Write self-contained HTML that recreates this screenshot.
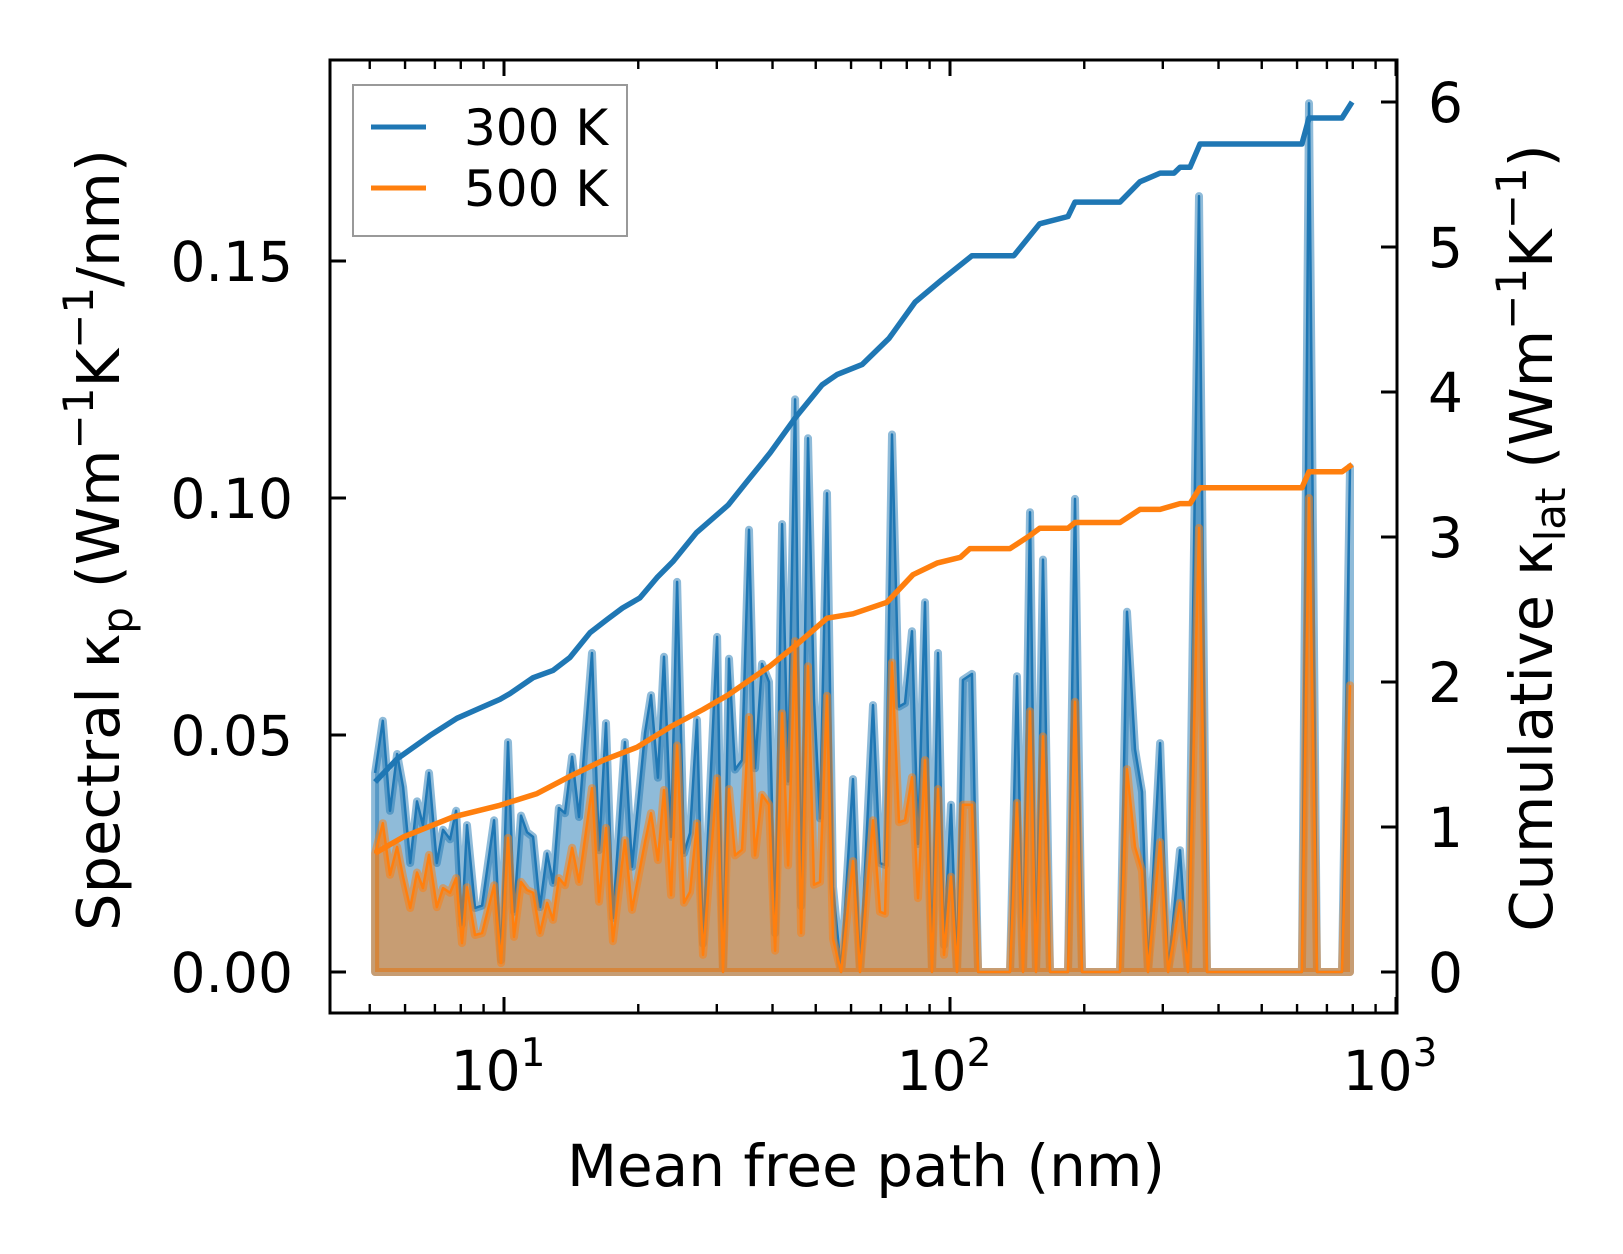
<!DOCTYPE html>
<html><head><meta charset="utf-8"><style>
html,body{margin:0;padding:0;background:#fff;}
svg{display:block;font-family:"DejaVu Sans","Liberation Sans",sans-serif;}
</style></head><body>
<svg id="chart" width="1623" height="1254" viewBox="0 0 1623 1254" xmlns="http://www.w3.org/2000/svg">
<rect width="1623" height="1254" fill="#fff"/>
<g id="plot"></g>
<g id="axes"></g>
</svg>
<script>
const mfp = [5.14,5.35,5.55,5.76,5.94,6.16,6.38,6.58,6.79,7.07,7.30,7.57,7.81,8.05,8.26,8.61,8.93,9.50,9.85,10.21,10.53,10.92,11.26,11.62,12.04,12.49,12.88,13.28,13.70,14.21,14.73,15.75,16.33,16.93,17.55,18.67,19.36,20.71,21.36,22.14,22.84,23.69,24.44,25.33,26.12,27.08,27.94,30.04,30.97,31.95,32.96,34.17,35.43,36.54,37.89,39.29,40.53,42.02,43.35,44.95,46.36,48.05,49.56,51.12,53.00,54.67,56.98,60.61,62.84,67.21,69.66,71.48,74.13,76.86,79.28,82.20,84.79,87.89,91.13,93.99,96.94,100.5,103.7,106.9,112.0,115.6,136.3,141.3,145.8,151.1,155.9,161.6,167.6,183.9,190.7,197.7,240.5,249.4,259.9,269.5,278.0,295.8,308.3,327.9,341.7,361.7,376.9,615.3,638.0,665.0,756.8,788.8];
const spec300 = [.042,.053,.034,.046,.039,.023,.036,.031,.042,.023,.030,.028,.034,.010,.031,.0135,.014,.032,.0025,.0485,.0127,.033,.0295,.0285,.0137,.025,.0188,.0346,.0335,.0454,.0327,.0673,.0257,.0525,.0114,.0485,.0222,.0504,.0584,.041,.0665,.0285,.0823,.0251,.0293,.0532,.006,.0707,0,.0661,.0427,.0447,.0933,.043,.065,.0612,.0082,.0945,.0402,.1208,.0139,.1126,.0575,.0324,.101,.018,0,.0407,0,.0563,.023,.0226,.1134,.056,.0567,.0719,.027,.078,0,.0673,.0057,.0353,0,.0616,.0629,0,0,.0624,0,.097,0,.087,0,0,.0998,0,0,.076,.047,.038,0,.0483,0,.0257,0,.1637,0,0,.1833,0,0,.1065];
const spec500 = [.025,.0314,.0205,.0264,.020,.0135,.021,.0177,.0247,.0137,.0177,.0167,.0198,.0061,.0179,.0078,.0082,.0183,.0019,.0283,.0074,.019,.0173,.0167,.0082,.0146,.011,.0198,.0183,.0262,.019,.0388,.0148,.0304,.0065,.0278,.0131,.0274,.0335,.0236,.0384,.0162,.0478,.0146,.0169,.0314,.0036,.0409,0,.0386,.0246,.0258,.0538,.0246,.0374,.0353,.0045,.0546,.0225,.0698,.0082,.0645,.0184,.019,.0583,.007,0,.0234,0,.032,.0127,.0123,.0653,.0316,.032,.0411,.0156,.0447,0,.0386,.0036,.0201,0,.0353,.0353,0,0,.0357,0,.055,0,.0497,0,0,.057,0,0,.0428,.0264,.0213,0,.0274,0,.0146,0,.0937,0,0,.100,0,0,.0605];
const cumX300 = [5.14,5.76,6.82,7.84,8.83,9.79,10.31,11.62,12.88,14.06,15.59,17.02,18.44,20.17,22.03,23.92,27.0,31.8,35.0,39.5,45.2,51.7,55.8,63.6,73.0,83.5,95.5,112.0,139.0,158.8,183.9,190.7,240.5,266.5,295.8,318.0,327.9,345.3,363.5,615.3,638.0,756.8,797];
const cum300 = [1.31,1.47,1.63,1.75,1.82,1.88,1.92,2.03,2.08,2.17,2.34,2.43,2.51,2.58,2.72,2.83,3.03,3.22,3.38,3.58,3.83,4.05,4.12,4.19,4.37,4.62,4.77,4.94,4.94,5.16,5.21,5.31,5.31,5.45,5.51,5.51,5.55,5.55,5.71,5.71,5.89,5.89,6.0];
const cumX500 = [5.14,5.94,7.69,9.79,11.86,14.06,16.68,19.86,23.57,27.94,31.8,39.5,45.4,53.0,60.6,72.2,82.6,93.5,105.5,110.8,136.3,151.1,158.8,183.9,190.7,240.5,266.5,295.8,327.9,345.3,363.5,615.3,638.0,756.8,797];
const cum500 = [.82,.93,1.07,1.15,1.23,1.35,1.46,1.55,1.69,1.81,1.91,2.11,2.26,2.44,2.47,2.55,2.74,2.82,2.86,2.92,2.92,3.01,3.06,3.06,3.10,3.10,3.19,3.19,3.23,3.23,3.34,3.34,3.45,3.45,3.50];
const leftTicks = [0,0.05,0.10,0.15];
const leftTickLabels = ["0.00","0.05","0.10","0.15"];
const rightTicks = [0,1,2,3,4,5,6];
const xDecades = [1,2,3];

const L=330,R=1397,T=60,B=1013;
const xs = v => 504 + 446*(Math.log10(v)-1);
const yl = v => 972 - v*4740;
const yr = v => 972 - v*145;
const NS="http://www.w3.org/2000/svg";
const plot=document.getElementById('plot'), axes=document.getElementById('axes');
function mk(tag,attrs,parent){const e=document.createElementNS(NS,tag);for(const k in attrs)e.setAttribute(k,attrs[k]);parent.appendChild(e);return e;}
function pts(xa,ya,fy){return xa.map((x,i)=>xs(x).toFixed(1)+','+fy(ya[i]).toFixed(1)).join(' ');}

function spectral(vals,color,name){
  const line=pts(mfp,vals,yl);
  const area=xs(mfp[0]).toFixed(1)+','+yl(0)+' '+line+' '+xs(mfp[mfp.length-1]).toFixed(1)+','+yl(0);
  const f=mk('polygon',{points:area,fill:color,'fill-opacity':0.5,stroke:color,'stroke-opacity':0.5,'stroke-width':8,'stroke-linejoin':'round'},plot);
  
  
  const l=mk('polyline',{points:line,fill:'none',stroke:color,'stroke-width':2.5,'stroke-linejoin':'round'},plot);
  
  
}
spectral(spec300,'#1f77b4','spectral-300k');
spectral(spec500,'#ff7f0e','spectral-500k');
const c3=mk('polyline',{points:pts(cumX300,cum300,yr),fill:'none',stroke:'#1f77b4','stroke-width':5.5,'stroke-linejoin':'round'},plot);


const c5=mk('polyline',{points:pts(cumX500,cum500,yr),fill:'none',stroke:'#ff7f0e','stroke-width':5.5,'stroke-linejoin':'round'},plot);



const fr=mk('rect',{x:L,y:T,width:R-L,height:B-T,fill:'none',stroke:'#000','stroke-width':3},axes);


leftTicks.forEach((v,i)=>{
  const y=yl(v);
  const t=mk('line',{x1:L,x2:L+16,y1:y,y2:y,stroke:'#000','stroke-width':3},axes);
  
  
  const tx=mk('text',{x:L-37,y:y+20,'font-size':55,'text-anchor':'end'},axes);
  tx.textContent=leftTickLabels[i];
  
  
});
rightTicks.forEach(v=>{
  const y=yr(v);
  const t=mk('line',{x1:R-16,x2:R,y1:y,y2:y,stroke:'#000','stroke-width':3},axes);
  
  
  const tx=mk('text',{x:R+31,y:y+20,'font-size':55},axes);
  tx.textContent=String(v);
  
  
});
for(let d=0;d<=3;d++){
  for(let m=1;m<=9;m++){
    const v=m*Math.pow(10,d);
    const x=xs(v);
    if(x<L+1||x>R+1)continue;
    const len=m===1?16:9;
    const a=mk('line',{x1:x,x2:x,y1:B,y2:B-len,stroke:'#000','stroke-width':m===1?3:2.4},axes);
    
    
    const b=mk('line',{x1:x,x2:x,y1:T,y2:T+len,stroke:'#000','stroke-width':m===1?3:2.4},axes);
    
    
  }
}
xDecades.forEach(p=>{
  const x=xs(Math.pow(10,p));
  const tx=mk('text',{x:x-6,y:1090,'font-size':55,'text-anchor':'middle'},axes);
  tx.innerHTML='10<tspan dy="-24" font-size="39">'+p+'</tspan>';
  
  
});
</script>
<svg style="position:absolute;left:0;top:0" width="1623" height="1254">
<text x="866" y="1186" font-size="58" text-anchor="middle" font-family="DejaVu Sans, Liberation Sans, sans-serif">Mean free path (nm)</text>
<text transform="translate(119,540) rotate(-90)" font-size="59" text-anchor="middle" font-family="DejaVu Sans, Liberation Sans, sans-serif">Spectral κ<tspan dy="13" font-size="42">p</tspan><tspan dy="-13"> (Wm</tspan><tspan dy="-26" font-size="42">−1</tspan><tspan dy="26">K</tspan><tspan dy="-26" font-size="42">−1</tspan><tspan dy="26">/nm)</tspan></text>
<text transform="translate(1552,538) rotate(-90)" font-size="59" text-anchor="middle" font-family="DejaVu Sans, Liberation Sans, sans-serif">Cumulative κ<tspan dy="13" font-size="42">lat</tspan><tspan dy="-13"> (Wm</tspan><tspan dy="-26" font-size="42">−1</tspan><tspan dy="26">K</tspan><tspan dy="-26" font-size="42">−1</tspan><tspan dy="26">)</tspan></text>
<g>
<rect x="353" y="85" width="274" height="151" fill="#fff" fill-opacity="0.8" stroke="#999" stroke-width="2"/>
<line x1="371" x2="426" y1="127" y2="127" stroke="#1f77b4" stroke-width="5"/>
<text x="464" y="145" font-size="50" font-family="DejaVu Sans, Liberation Sans, sans-serif">300 K</text>
<line x1="371" x2="426" y1="188" y2="188" stroke="#ff7f0e" stroke-width="5"/>
<text x="464" y="206" font-size="50" font-family="DejaVu Sans, Liberation Sans, sans-serif">500 K</text>
</g>
</svg>
</body></html>
